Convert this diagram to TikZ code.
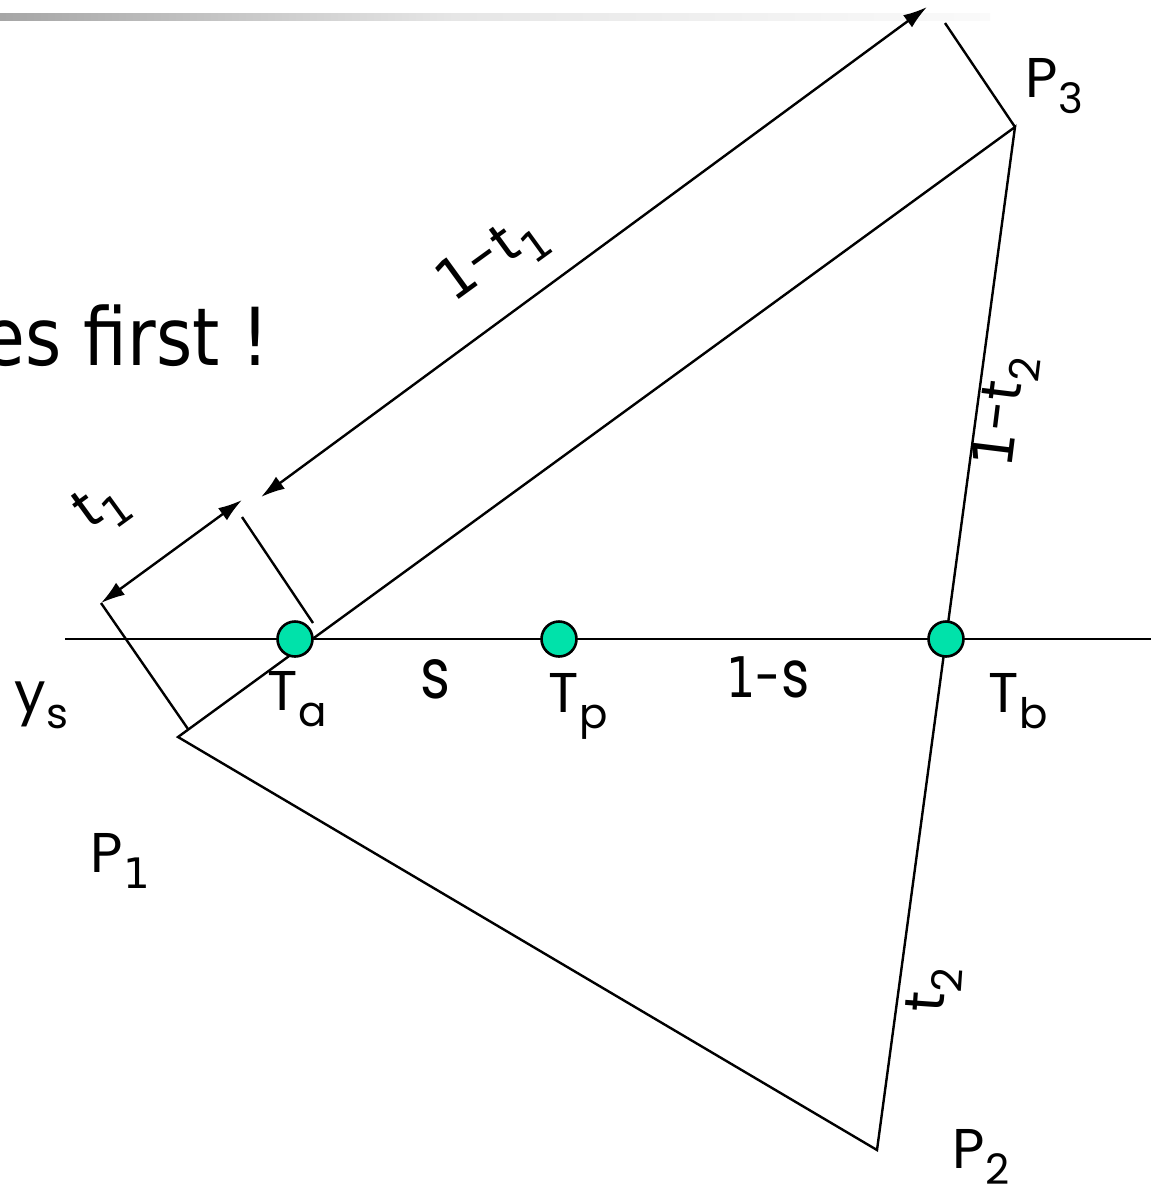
\documentclass[tikz,border=0pt]{standalone}
\usepackage{fontspec}
\setmainfont{DejaVu Sans}
\newfontfamily\labfont{Poppins}
\usetikzlibrary{arrows.meta}
\definecolor{dotgreen}{RGB}{0,226,170}
\newcommand\one{{\normalfont 1}}
\newcommand\mylab[2]{{\labfont\fontsize{56}{60}\selectfont #1\kern1pt\raisebox{-16pt}{\fontsize{42}{44}\selectfont #2}}}
\begin{document}
\begin{tikzpicture}[x=1pt,y=-1pt,line width=2.4pt,
  dimarrow/.style={{Latex[length=24pt,width=15pt]}-{Latex[length=24pt,width=15pt]}},
  dot/.style={circle,draw,line width=2.6pt,fill=dotgreen,minimum size=35pt,inner sep=0pt},
  lab/.style={inner sep=0pt,anchor=base west}]
\useasboundingbox (0,0) rectangle (1151,1187);
\clip (0,0) rectangle (1151,1187);
% header bar
\shade[left color=black!35,right color=black!10] (0,13) rectangle (451,20);
\shade[left color=black!10,right color=black!2] (450,13) rectangle (990,20);
% text
\node[inner sep=0pt,anchor=base east] (txt) at (271,365) {\scalebox{0.87}[1]{\fontsize{80}{84}\selectfont es first !}};
% points
\coordinate (P1) at (178,737);
\coordinate (P2) at (877,1150);
\coordinate (P3) at (1015,127);
\coordinate (L) at (65,639);
\coordinate (R) at (1151,639);
% extension lines ends
\coordinate (E1a) at (188,729);
\coordinate (E1b) at (101,603);
\coordinate (E2a) at (313,623);
\coordinate (E2b) at (242,517);
\coordinate (E3b) at (945,23);
% arrow tips
\coordinate (A1) at (101,603);
\coordinate (A2) at (242,500);
\coordinate (B1) at (261,497);
\coordinate (B2) at (927,7);
% triangle
\draw (P1) -- (P3) -- (P2) -- cycle;
% scanline
\draw (L) -- (R);
% extension lines
\draw (E1a) -- (E1b);
\draw (E2a) -- (E2b);
\draw (P3) -- (E3b);
% dimension arrows
\draw[dimarrow] (A1) -- (A2);
\draw[dimarrow] (B1) -- (B2);
% dots
\node[dot] (Ta) at (295,639) {};
\node[dot] (Tp) at (559,639) {};
\node[dot] (Tb) at (946,639) {};
% labels
\node[lab] (lP3) at (1024,97) {\mylab{P}{3}};
\node[lab] (lP1) at (89,872) {\mylab{P}{\one}};
\node[lab] (lP2) at (951,1168) {\mylab{P}{2}};
\node[lab] (lTa) at (266,710) {\mylab{T}{a}};
\node[lab] (lTp) at (547,712) {\mylab{T}{p}};
\node[lab] (lTb) at (987,712) {\mylab{T}{b}};
\node[lab] (lys) at (13,712) {\mylab{y}{s}};
\node[lab] (ls) at (419,698) {\scalebox{0.82}[1]{\labfont\fontsize{70}{72}\selectfont s}};
\node[lab] (l1s) at (725,697) {\scalebox{0.82}[1]{\labfont\fontsize{56}{60}\selectfont \one-\kern1pt{\fontsize{66}{70}\selectfont s}}};
\node[inner sep=0pt,rotate=36] (l1t1) at (493,260) {\mylab{\one-t}{\one}};
\node[inner sep=0pt,rotate=36] (lt1) at (102,507) {\mylab{t}{\one}};
\node[inner sep=0pt,rotate=83] (l1t2) at (1006,412) {\mylab{\one-t}{2}};
\node[inner sep=0pt,rotate=86] (lt2) at (934,990) {\mylab{t}{2}};
\end{tikzpicture}
\end{document}
